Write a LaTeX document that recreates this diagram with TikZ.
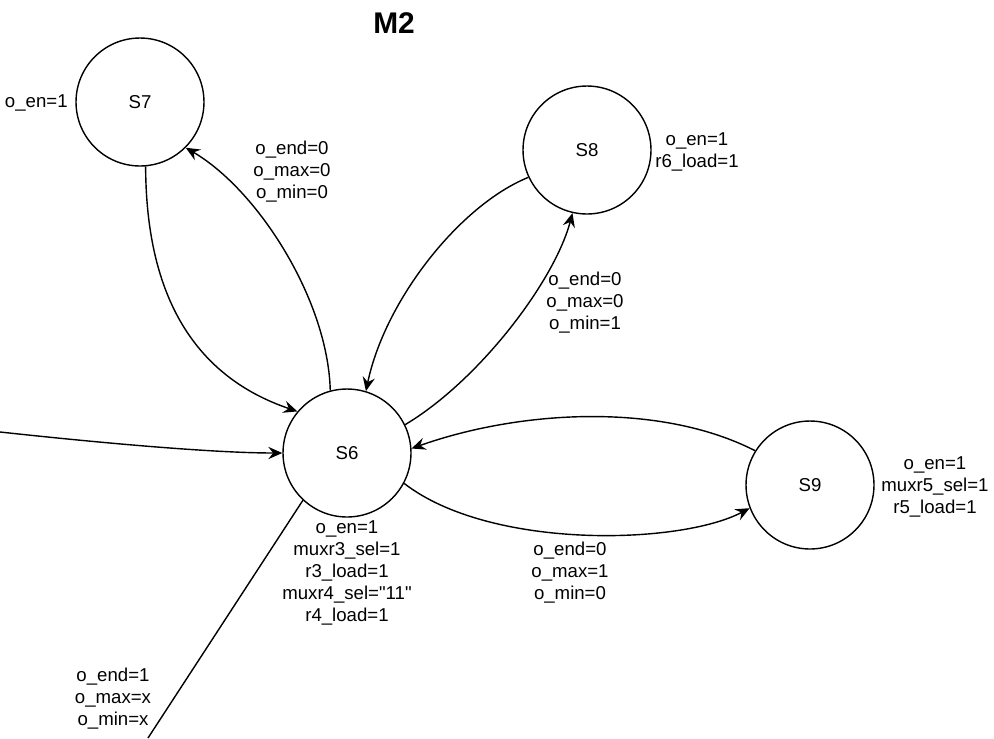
\documentclass[tikz,border=0pt]{standalone}
\usepackage{fontspec}
\setmainfont{Liberation Sans}[Ligatures=TeXOff]
\usetikzlibrary{arrows.meta}
\tikzset{
	state/.style={circle, draw, line width=0.8pt, minimum size=2.56cm, inner sep=0pt},
	lbl/.style={align=center, inner sep=0pt},
	trans/.style={line width=0.8pt, -{Stealth[length=8pt,width=7pt,inset=2.8pt]}}
}
\begin{document}
\begin{tikzpicture}[x=0.02cm, y=-0.02cm, font=\fontsize{10.6}{12.5}\selectfont]
			\useasboundingbox (0,0) rectangle (994,738);
			\node[font=\bfseries\fontsize{17}{20}\selectfont] (title) at (394,23) {M2};
			% states
			\node[state] (S7) at (140,102) {S7};
			\node[state] (S8) at (587,150) {S8};
			\node[state] (S6) at (347,453) {S6};
			\node[state] (S9) at (810,485) {S9};
			% outputs
			\node[lbl, anchor=east] (outS7) at (68,103) {o\_en=1};
			\node[lbl] (outS8) at (697,152) {o\_en=1\\r6\_load=1};
			\node[lbl] (outS6) at (347,573) {o\_en=1\\muxr3\_sel=1\\r3\_load=1\\muxr4\_sel="11"\\r4\_load=1};
			\node[lbl] (outS9) at (935,487) {o\_en=1\\muxr5\_sel=1\\r5\_load=1};
			% transitions
			\coordinate (src) at (0,432);
			\coordinate (dst) at (148,738);
			\draw[trans] (src) .. controls (120,445) and (220,453) .. (S6.180);
			\draw[trans] (S7.275) .. controls (146,290) and (190,375) .. (S6.140);
			\draw[trans] (S6.105) .. controls (328,300) and (258,190) .. (S7.-45);
			\draw[trans] (S8.205) .. controls (460,205) and (385,300) .. (S6.73);
			\draw[trans] (S6.26) .. controls (480,380) and (555,280) .. (S8.257);
			\draw[trans] (S9.148) .. controls (660,402) and (520,410) .. (S6.4);
			\draw[trans] (S6.-28) .. controls (490,550) and (680,545) .. (S9.201);
			\draw[line width=0.8pt] (S6.227) -- (dst);
			% conditions
			\node[lbl] (c67) at (292,172) {o\_end=0\\o\_max=0\\o\_min=0};
			\node[lbl] (c68) at (585,303) {o\_end=0\\o\_max=0\\o\_min=1};
			\node[lbl] (c69) at (570,573) {o\_end=0\\o\_max=1\\o\_min=0};
			\node[lbl] (cout) at (113,699) {o\_end=1\\o\_max=x\\o\_min=x};
\end{tikzpicture}
\end{document}
